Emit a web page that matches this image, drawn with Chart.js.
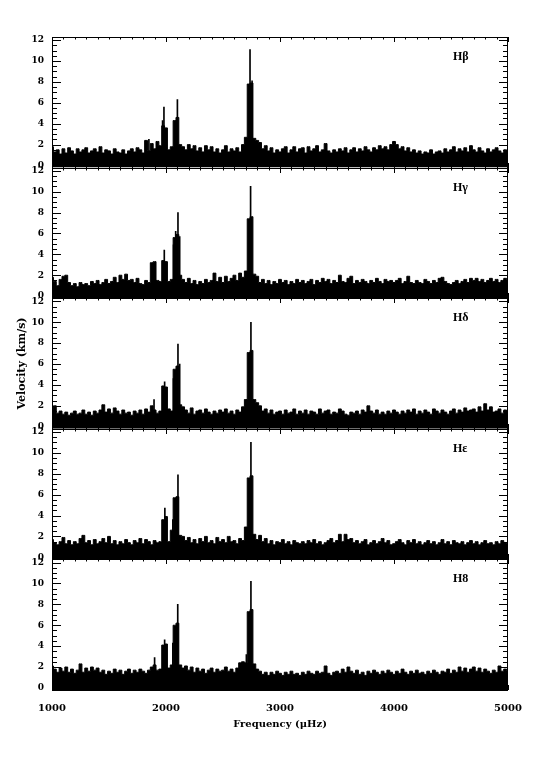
<!DOCTYPE html>
<html>
<head>
<meta charset="utf-8">
<script src="https://cdn.jsdelivr.net/npm/chart.js@4/dist/chart.umd.min.js"></script>
<style>
  html, body { margin: 0; padding: 0; background: #fff; }
</style>
</head>
<body>
<canvas id="chart" width="535" height="766"></canvas>
<script>
// Frequency grid of the noise readings (µHz)
const freqStart = 1000;
const freqStep = 25;
const xTicks = [1000, 2000, 3000, 4000, 5000];
const yTicks = [0, 2, 4, 6, 8, 10, 12];
const panelNames = ['Hβ', 'Hγ', 'Hδ', 'Hε', 'H8'];

// Noise envelope, one value every 25 µHz from 1000 to 5000 (km/s)
const noiseHb = [
  1.8,1.3,1.5,1.1, 1.6,1.2,1.7,1.4, 1.1,1.6,1.3,1.5, 1.7,1.2,1.4,1.6, 1.3,1.8,1.2,1.5,
  1.4,1.1,1.6,1.3, 1.2,1.5,1.1,1.4, 1.6,1.3,1.7,1.5, 1.2,2.4,1.4,2.1, 1.6,2.3,1.9,3.8,
  3.6,1.5,1.8,4.3, 4.6,2.0,1.8,1.5, 2.0,1.6,1.9,1.4, 1.7,1.3,1.9,1.5, 1.8,1.3,1.6,1.2,
  1.5,1.9,1.3,1.6, 1.4,1.7,1.3,2.0, 2.7,7.8,7.9,2.6, 2.4,2.2,1.6,1.9, 1.4,1.7,1.2,1.5,
  1.3,1.6,1.8,1.2, 1.5,1.8,1.3,1.6, 1.7,1.2,1.8,1.4, 1.6,1.9,1.3,1.5, 2.1,1.4,1.2,1.5,
  1.3,1.6,1.4,1.7, 1.2,1.5,1.7,1.3, 1.6,1.4,1.8,1.5, 1.3,1.7,1.5,1.9, 1.6,1.8,1.5,2.0,
  2.3,2.0,1.6,1.8, 1.4,1.7,1.3,1.5, 1.2,1.4,1.1,1.3, 1.2,1.5,1.1,1.3, 1.4,1.2,1.6,1.3,
  1.5,1.8,1.3,1.6, 1.4,1.7,1.3,1.9, 1.5,1.3,1.7,1.4, 1.2,1.6,1.3,1.5, 1.7,1.4,1.2,1.5,
  1.4
];
const noiseHg = [
  1.8,1.4,1.0,1.6, 1.9,2.0,1.3,1.0, 1.2,0.9,1.3,1.1, 1.2,1.0,1.4,1.2, 1.5,1.1,1.3,1.6,
  1.2,1.4,1.8,1.3, 2.0,1.6,2.1,1.5, 1.6,1.3,1.7,1.2, 1.1,1.5,1.3,3.2, 3.3,1.5,1.4,3.4,
  3.3,1.4,1.6,5.6, 5.9,2.0,1.6,1.3, 1.7,1.2,1.5,1.1, 1.4,1.2,1.6,1.3, 1.5,2.2,1.4,1.8,
  1.3,1.9,1.4,1.7, 2.0,1.5,2.2,1.8, 2.4,7.4,7.6,2.1, 1.9,1.3,1.6,1.2, 1.5,1.1,1.4,1.2,
  1.6,1.3,1.5,1.1, 1.4,1.2,1.6,1.3, 1.5,1.2,1.4,1.6, 1.1,1.5,1.3,1.7, 1.4,1.6,1.2,1.5,
  1.3,2.0,1.4,1.3, 1.7,1.9,1.2,1.5, 1.3,1.6,1.4,1.2, 1.5,1.3,1.7,1.4, 1.2,1.6,1.4,1.5,
  1.3,1.5,1.7,1.2, 1.4,1.9,1.3,1.2, 1.5,1.3,1.2,1.6, 1.4,1.2,1.5,1.3, 1.7,1.8,1.4,1.2,
  1.1,1.3,1.5,1.2, 1.4,1.6,1.3,1.7, 1.5,1.7,1.4,1.6, 1.3,1.5,1.7,1.4, 1.6,1.3,1.5,1.7,
  1.6
];
const noiseHd = [
  1.6,2.0,1.3,1.5, 1.2,1.4,1.1,1.3, 1.5,1.2,1.3,1.6, 1.2,1.4,1.1,1.5, 1.3,1.6,2.1,1.4,
  1.7,1.3,1.8,1.5, 1.2,1.6,1.3,1.4, 1.1,1.5,1.3,1.6, 1.2,1.7,1.4,2.0, 1.6,1.3,1.5,3.9,
  3.8,1.7,1.5,5.5, 5.8,2.1,1.9,1.6, 1.3,1.8,1.2,1.5, 1.6,1.3,1.7,1.4, 1.2,1.5,1.3,1.6,
  1.4,1.7,1.3,1.5, 1.2,1.6,1.4,1.9, 2.6,7.1,7.3,2.6, 2.3,2.0,1.5,1.7, 1.3,1.6,1.2,1.4,
  1.5,1.2,1.6,1.3, 1.4,1.7,1.2,1.5, 1.3,1.6,1.2,1.5, 1.4,1.2,1.7,1.3, 1.5,1.6,1.2,1.4,
  1.3,1.7,1.5,1.2, 1.1,1.4,1.3,1.5, 1.2,1.6,1.4,2.0, 1.5,1.3,1.6,1.2, 1.4,1.2,1.5,1.3,
  1.6,1.4,1.2,1.5, 1.3,1.6,1.4,1.7, 1.2,1.5,1.3,1.6, 1.4,1.2,1.7,1.5, 1.3,1.6,1.4,1.2,
  1.5,1.7,1.3,1.6, 1.4,1.8,1.5,1.6, 1.7,1.4,1.9,1.5, 2.2,1.6,1.9,1.4, 1.5,1.7,1.3,1.6,
  1.5
];
const noiseHe = [
  1.7,1.4,1.2,1.5, 1.9,1.3,1.6,1.2, 1.5,1.3,1.8,2.1, 1.4,1.6,1.2,1.7, 1.3,1.5,1.8,1.4,
  2.0,1.3,1.6,1.2, 1.5,1.3,1.7,1.4, 1.2,1.6,1.4,1.8, 1.3,1.7,1.5,1.2, 1.6,1.4,1.5,3.6,
  3.9,1.5,2.6,5.7, 5.8,2.1,2.0,1.6, 1.9,1.4,1.7,1.3, 1.8,1.5,2.0,1.4, 1.6,1.3,1.9,1.5,
  1.7,1.4,2.0,1.5, 1.6,1.3,1.8,1.6, 2.9,7.6,7.8,2.2, 1.7,2.1,1.5,1.8, 1.3,1.6,1.2,1.5,
  1.4,1.7,1.3,1.5, 1.2,1.6,1.4,1.3, 1.5,1.3,1.6,1.4, 1.7,1.3,1.5,1.2, 1.4,1.6,1.8,1.4,
  1.6,2.2,1.5,2.2, 1.7,1.8,1.4,1.6, 1.3,1.5,1.7,1.2, 1.4,1.6,1.3,1.5, 1.8,1.4,1.6,1.2,
  1.3,1.5,1.7,1.4, 1.2,1.6,1.4,1.7, 1.3,1.5,1.2,1.4, 1.6,1.3,1.5,1.2, 1.4,1.7,1.3,1.5,
  1.2,1.6,1.4,1.3, 1.5,1.2,1.4,1.6, 1.3,1.5,1.2,1.4, 1.6,1.3,1.4,1.2, 1.5,1.3,1.6,1.4,
  1.3
];
const noiseH8 = [
  2.1,1.8,1.5,1.9, 1.6,2.0,1.5,1.8, 1.4,1.7,2.3,1.5, 1.9,1.6,2.0,1.7, 1.9,1.5,1.7,1.3,
  1.6,1.4,1.8,1.5, 1.7,1.3,1.6,1.8, 1.4,1.7,1.5,1.8, 1.6,1.4,1.7,2.0, 2.2,1.7,1.8,4.1,
  4.2,1.9,2.2,6.0, 6.2,2.2,1.9,2.1, 1.7,2.0,1.5,1.9, 1.6,1.8,1.4,1.7, 1.9,1.5,1.8,1.6,
  1.7,2.0,1.6,1.8, 1.5,1.9,2.4,2.5, 2.4,7.3,7.5,2.3, 1.8,1.6,1.3,1.5, 1.2,1.5,1.3,1.6,
  1.4,1.2,1.5,1.3, 1.6,1.3,1.4,1.2, 1.5,1.3,1.6,1.4, 1.3,1.6,1.4,1.5, 2.1,1.4,1.2,1.5,
  1.6,1.4,1.8,1.5, 2.0,1.6,1.4,1.7, 1.3,1.5,1.2,1.6, 1.4,1.7,1.5,1.3, 1.6,1.4,1.7,1.5,
  1.3,1.6,1.4,1.8, 1.5,1.3,1.6,1.4, 1.7,1.4,1.5,1.3, 1.6,1.4,1.7,1.5, 1.3,1.6,1.5,1.8,
  1.4,1.7,1.5,2.0, 1.6,1.9,1.5,1.8, 2.0,1.6,1.9,1.5, 1.8,1.6,1.4,1.7, 1.5,2.1,1.6,1.8,
  1.7
];

// Narrow oscillation peaks (frequency in µHz, amplitude in km/s)
const spikeFreqHb = [1850, 1970, 1982, 2100, 2737, 2755];
const spikeAmpHb  = [2.5, 4.3, 5.6, 6.3, 11.1, 8.1];
const spikeFreqHg = [1985, 2066, 2085, 2105, 2120, 2742];
const spikeAmpHg  = [4.4, 4.9, 6.2, 8.0, 5.7, 10.5];
const spikeFreqHd = [1895, 1988, 2065, 2105, 2120, 2745];
const spikeAmpHd  = [2.6, 4.3, 4.6, 7.9, 6.0, 10.0];
const spikeFreqHe = [1990, 2060, 2105, 2745];
const spikeAmpHe  = [4.7, 3.6, 7.9, 11.0];
const spikeFreqH8 = [1900, 1988, 2060, 2103, 2705, 2745];
const spikeAmpH8  = [2.9, 4.6, 4.3, 8.0, 3.2, 10.2];

const panels = [
  { noise: noiseHb, spikeF: spikeFreqHb, spikeA: spikeAmpHb },
  { noise: noiseHg, spikeF: spikeFreqHg, spikeA: spikeAmpHg },
  { noise: noiseHd, spikeF: spikeFreqHd, spikeA: spikeAmpHd },
  { noise: noiseHe, spikeF: spikeFreqHe, spikeA: spikeAmpHe },
  { noise: noiseH8, spikeF: spikeFreqH8, spikeA: spikeAmpH8 }
];

const labelFont = { family: 'DejaVu Serif', size: 10, weight: 'bold' };
const yLabelFont = { family: 'DejaVu Serif', size: 9, weight: 'bold' };

const datasets = [];
panels.forEach((pn, p) => {
  datasets.push({
    type: 'line',
    yAxisID: 'y' + p,
    data: pn.noise.map((v, i) => ({ x: freqStart + i * freqStep, y: v })),
    borderColor: '#000',
    borderWidth: 1,
    backgroundColor: '#000',
    fill: 'start',
    stepped: 'middle',
    pointRadius: 0
  });
  datasets.push({
    type: 'bar',
    yAxisID: 'y' + p,
    data: pn.spikeF.map((f, i) => ({ x: f, y: pn.spikeA[i] })),
    backgroundColor: '#000',
    barThickness: 1,
    grouped: false
  });
});

const scales = {
  x: {
    type: 'linear', min: 1000, max: 5000, offset: false,
    afterBuildTicks: s => { s.ticks = xTicks.map(v => ({ value: v })); },
    afterFit: s => { s.height = 40; },
    grid: { display: false, drawTicks: false },
    border: { display: false },
    ticks: { font: labelFont, color: '#000', padding: 12, maxRotation: 0, autoSkip: false,
             callback: v => String(v) },
    title: { display: true, text: 'Frequency (μHz)', color: '#000', font: labelFont, padding: { top: 2, bottom: 0 } }
  }
};
// last defined left scale ends up at the top of the stack
for (let p = panels.length - 1; p >= 0; p--) {
  scales['y' + p] = {
    type: 'linear', position: 'left', stack: 'panels', stackWeight: 1,
    min: -0.2, max: 12.3,
    afterBuildTicks: s => { s.ticks = yTicks.map(v => ({ value: v })); },
    afterFit: s => { s.width = 52; },
    grid: { display: false, drawTicks: false },
    border: { display: false },
    ticks: { font: yLabelFont, color: '#000', padding: 8, autoSkip: false },
    title: {
      display: p === 2, text: 'Velocity (km/s)', color: '#000',
      font: { family: 'DejaVu Serif', size: 11, weight: 'bold' }, padding: { top: 16, bottom: 0 }
    }
  };
}

// Frames, inward ticks and line names of each panel
const panelFrames = {
  id: 'panelFrames',
  afterDatasetsDraw(chart) {
    const ctx = chart.ctx;
    const area = chart.chartArea;
    const xs = chart.scales.x;
    ctx.save();
    ctx.strokeStyle = '#000';
    ctx.lineWidth = 1;
    panelNames.forEach((name, p) => {
      const ys = chart.scales['y' + p];
      const top = Math.round(ys.top), bot = Math.round(ys.bottom);
      ctx.strokeRect(area.left + 0.5, top + 0.5, area.right - area.left - 1, bot - top);
      ctx.beginPath();
      for (let v = 0; v <= 12; v += 0.5) {
        const len = v % 2 === 0 ? 9 : 5;
        const py = Math.round(ys.getPixelForValue(v)) + 0.5;
        ctx.moveTo(area.left, py); ctx.lineTo(area.left + len, py);
        ctx.moveTo(area.right, py); ctx.lineTo(area.right - len, py);
      }
      for (let f = 1000; f <= 5000; f += 100) {
        const len = f % 1000 === 0 ? 5 : 2.5;
        const px = Math.round(xs.getPixelForValue(f)) + 0.5;
        ctx.moveTo(px, top); ctx.lineTo(px, top + len);
        ctx.moveTo(px, bot); ctx.lineTo(px, bot - len);
      }
      ctx.stroke();
      ctx.fillStyle = '#000';
      ctx.font = 'bold 12px "Liberation Serif"';
      ctx.textBaseline = 'middle';
      ctx.fillText(name, area.right - 55, top + 20);
    });
    ctx.restore();
  }
};

new Chart(document.getElementById('chart'), {
  type: 'line',
  data: { datasets },
  options: {
    responsive: false,
    animation: false,
    layout: { padding: { top: 37, right: 27, bottom: 36, left: 0 } },
    plugins: { legend: { display: false }, tooltip: { enabled: false } },
    scales
  },
  plugins: [panelFrames]
});
</script>
</body>
</html>
